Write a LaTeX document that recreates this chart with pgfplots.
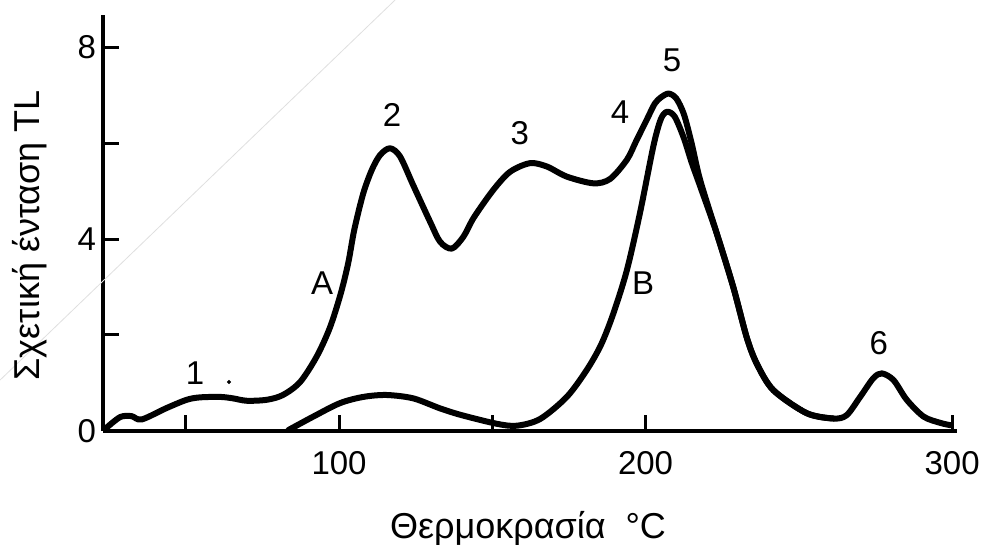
\documentclass[border=0pt]{standalone}
\usepackage{fontspec}
\setmainfont{Liberation Sans}
\usepackage{pgfplots}
\pgfplotsset{compat=1.18}
\begin{document}
\begin{tikzpicture}
\begin{axis}[
  at={(0,0)}, anchor=south west,
  scale only axis, width=427pt, height=208pt,
  xmin=23, xmax=301.6, ymin=0, ymax=8.667,
  axis lines*=left,
  axis line style={line width=2pt},
  tick align=inside,
  major tick length=8pt,
  tick style={line width=1.5pt, black},
  xtick={50,100,150,200,300}, xticklabels={,100,,200,300},
  ytick={0,2,4,6,8}, yticklabels={0,,4,,8},
  tick label style={font=\fontsize{16.5}{19}\selectfont},
  /pgf/number format/assume math mode=true,
  xticklabel style={yshift=-6.5pt},
  clip=false,
]
% faint scan line
\addplot[gray!25, line width=0.4pt] coordinates {(-10.6,1.06) (118.3,8.98)};
% curve A
\addplot[black, line width=3pt, smooth, line join=round, line cap=round] coordinates {
(24,0.06) (28.6,0.29) (32.3,0.31) (35.6,0.24) (43.8,0.48) (50.3,0.65) (54.6,0.70)
(61.2,0.71) (65.4,0.68) (69.9,0.63) (76.4,0.65) (81.7,0.75) (87.3,1.02) (92.7,1.55)
(97,2.15) (100.5,2.85) (103,3.5) (105,4.2) (107.9,4.95) (110.7,5.44) (113.4,5.75)
(116.6,5.89) (119.9,5.72) (124.2,5.12) (129.7,4.36) (133,3.94) (136.8,3.80) (140.6,4.05)
(144,4.45) (150.3,5.02) (155.8,5.40) (162.3,5.58) (167.8,5.51) (174.3,5.30) (183,5.16)
(188.4,5.25) (193.9,5.65) (197,6.05) (200.5,6.5) (203,6.82) (205,6.95) (207.5,7.03)
(210,6.93) (212.5,6.6) (215,6.0) (217.8,5.23) (223.2,4.12) (228.6,3.0) (233,1.95)
(236.3,1.4) (241.7,0.85) (252.6,0.37) (261.3,0.26) (265.6,0.33) (270,0.71) (274.3,1.10)
(277.1,1.20) (280.9,1.06) (285.2,0.65) (290.7,0.30) (296.1,0.17) (299.5,0.12)
};
% curve B
\addplot[black, line width=3pt, smooth, line join=round, line cap=round] coordinates {
(83.5,0.02) (91.6,0.30) (100.3,0.58) (107.9,0.71) (115.5,0.75) (124.2,0.68) (133,0.47)
(140,0.33) (151.5,0.15) (158,0.11) (165.6,0.25) (174.3,0.71) (180.8,1.27) (185.5,1.8)
(189.5,2.45) (193.9,3.35) (198.2,4.55) (202.6,5.95) (205,6.5) (207,6.65) (209.5,6.55)
(212.5,6.1) (215,5.6) (217.8,5.1) (223.2,4.12) (228.6,3.0) (233,1.95) (236.3,1.4)
(241.7,0.85) (252.6,0.37) (261.3,0.26)
};
\addplot[only marks, mark=*, mark size=0.8pt, black] coordinates {(64.1,1.02)};
% peak labels
\node[font=\fontsize{16.5}{19}\selectfont, inner sep=0pt] at (axis cs:53,1.20) {1};
\node[font=\fontsize{16.5}{19}\selectfont, inner sep=0pt] at (axis cs:117.3,6.58) {2};
\node[font=\fontsize{16.5}{19}\selectfont, inner sep=0pt] at (axis cs:159,6.21) {3};
\node[font=\fontsize{16.5}{19}\selectfont, inner sep=0pt] at (axis cs:191.7,6.65) {4};
\node[font=\fontsize{16.5}{19}\selectfont, inner sep=0pt] at (axis cs:208.6,7.73) {5};
\node[font=\fontsize{16.5}{19}\selectfont, inner sep=0pt] at (axis cs:276.1,1.83) {6};
\node[font=\fontsize{16.5}{19}\selectfont, inner sep=0pt] at (axis cs:94.5,3.08) {A};
\node[font=\fontsize{16.5}{19}\selectfont, inner sep=0pt] at (axis cs:199.2,3.08) {B};
% axis labels
\node[font=\fontsize{18}{21}\selectfont, anchor=base, inner sep=0pt]
  at ([xshift=-1pt,yshift=-54pt]rel axis cs:0.5,0) {Θερμοκρασία\hspace{10pt}°C};
\node[font=\fontsize{18}{21}\selectfont, rotate=90, anchor=center, inner sep=0pt]
  at ([xshift=-36.5pt]axis cs:23,4.08) {Σχετική ένταση TL};
\end{axis}
\pgfresetboundingbox
\useasboundingbox (-51.5pt,-57pt) rectangle (441pt,215.5pt);
\end{tikzpicture}
\end{document}
